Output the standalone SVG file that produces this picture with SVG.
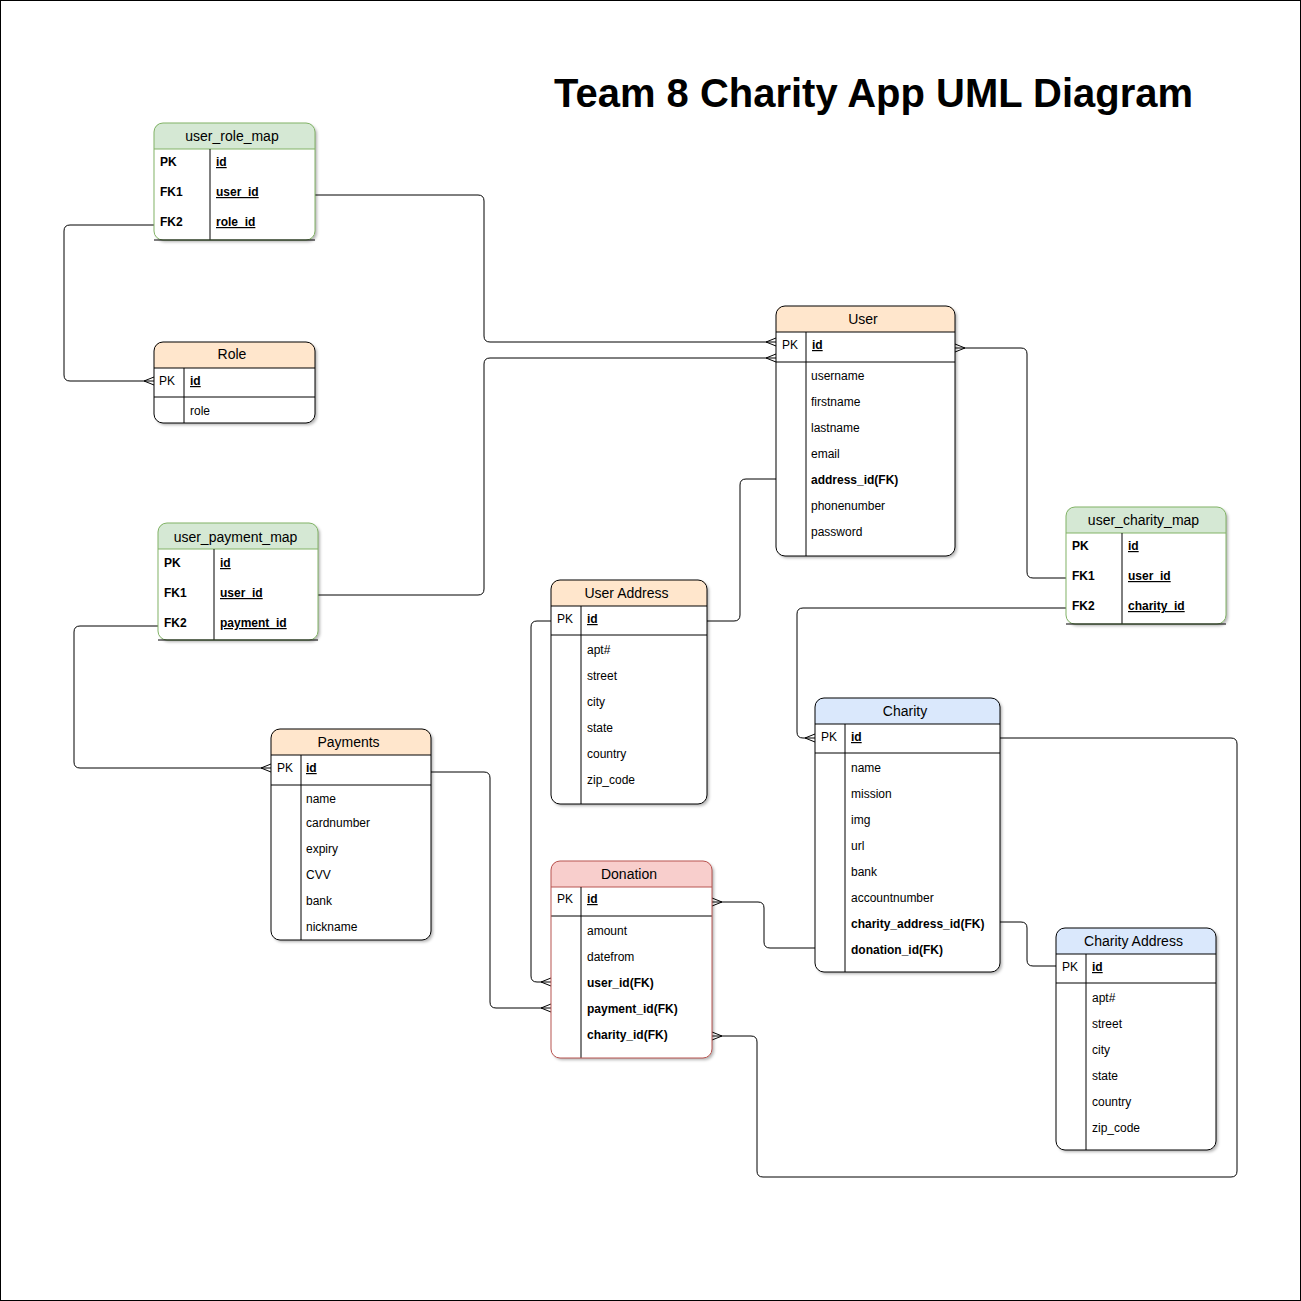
<svg xmlns="http://www.w3.org/2000/svg" width="1301" height="1301" viewBox="0 0 1301 1301">
<defs>
<style>
.t{font-family:"Liberation Sans",Arial,Helvetica,sans-serif;font-size:12px;fill:#000}
.b{font-weight:bold}
.u{text-decoration:underline}
.h{font-size:14px;text-anchor:middle}
.box{fill:#fff;stroke:none;filter:url(#sh)}
.ol{fill:none;stroke:#000;stroke-width:1}
.olg{fill:none;stroke:#82b366;stroke-width:1}
.olr{fill:none;stroke:#b85450;stroke-width:1}
.ln{stroke:#000;stroke-width:1;fill:none}
.lg{stroke:#82b366;stroke-width:1;fill:none}
.lr{stroke:#b85450;stroke-width:1;fill:none}
.hg{fill:#d5e8d4}
.ho{fill:#ffe6cc}
.hb{fill:#dae8fc}
.hr{fill:#f8cecc}
#connectors path{fill:none;stroke:#000;stroke-width:1}
.many{marker-end:url(#many)}
</style>
<filter id="sh" x="-10%" y="-10%" width="130%" height="130%">
<feDropShadow dx="2" dy="2" stdDeviation="1.5" flood-color="#000" flood-opacity="0.3"/>
</filter>
<marker id="many" markerWidth="12" markerHeight="10" refX="11" refY="5" orient="auto" markerUnits="userSpaceOnUse" overflow="visible">
<path d="M11,1 L1,5 L11,9" fill="none" stroke="#000" stroke-width="1"/>
</marker>
</defs>
<rect x="0.5" y="0.5" width="1300" height="1300" fill="#fff" stroke="#000" stroke-width="1"/>
<text class="t b" x="873.5" y="107" text-anchor="middle" textLength="639" lengthAdjust="spacingAndGlyphs" style="font-size:40px">Team 8 Charity App UML Diagram</text>

<g id="connectors">
<path class="many" d="M315,195 H478 Q484,195 484,201 V336 Q484,342 490,342 H776"/>
<path class="many" d="M318,595 H478 Q484,595 484,589 V364 Q484,358 490,358 H776"/>
<path class="many" d="M154,225 H70 Q64,225 64,231 V375 Q64,381 70,381 H154"/>
<path class="many" d="M158,626 H80 Q74,626 74,632 V762 Q74,768 80,768 H271"/>
<path class="many" d="M1066,578 H1033 Q1027,578 1027,572 V354 Q1027,348 1021,348 H955"/>
<path class="many" d="M1066,608 H803 Q797,608 797,614 V732 Q797,738 803,738 H815"/>
<path d="M776,479 H746 Q740,479 740,485 V615 Q740,621 734,621 H707"/>
<path class="many" d="M551,621 H537 Q531,621 531,627 V976 Q531,982 537,982 H551"/>
<path class="many" d="M431,772 H484 Q490,772 490,778 V1002 Q490,1008 496,1008 H551"/>
<path class="many" d="M815,948 H770 Q764,948 764,942 V908 Q764,902 758,902 H712"/>
<path d="M1000,922 H1021 Q1027,922 1027,928 V960 Q1027,966 1033,966 H1056"/>
<path class="many" d="M1000,738 H1231 Q1237,738 1237,744 V1171 Q1237,1177 1231,1177 H763 Q757,1177 757,1171 V1042 Q757,1036 751,1036 H712"/>
</g>

<g id="user_role_map">
<rect class="box" x="154" y="123" width="161" height="117" rx="9"/>
<path class="hg" d="M154,149 V132 Q154,123 163,123 H306 Q315,123 315,132 V149 Z"/>
<line class="lg" x1="154" y1="149" x2="315" y2="149"/>
<line class="ln" x1="210" y1="149" x2="210" y2="240"/>
<rect class="olg" x="154" y="123" width="161" height="117" rx="9"/>
<line class="ln" x1="154" y1="240" x2="315" y2="240"/>
<text class="t h" x="232" y="141">user_role_map</text>
<text class="t b" x="160" y="166">PK</text>
<text class="t b" x="160" y="196">FK1</text>
<text class="t b" x="160" y="226">FK2</text>
<text class="t b u" x="216" y="166">id</text>
<text class="t b u" x="216" y="196">user_id</text>
<text class="t b u" x="216" y="226">role_id</text>
</g>

<g id="role">
<rect class="box" x="154" y="342" width="161" height="81" rx="9"/>
<path class="ho" d="M154,368 V351 Q154,342 163,342 H306 Q315,342 315,351 V368 Z"/>
<line class="ln" x1="154" y1="368" x2="315" y2="368"/>
<line class="ln" x1="154" y1="397" x2="315" y2="397"/>
<line class="ln" x1="184" y1="368" x2="184" y2="423"/>
<rect class="ol" x="154" y="342" width="161" height="81" rx="9"/>
<text class="t h" x="232" y="359">Role</text>
<text class="t" x="159" y="385">PK</text>
<text class="t b u" x="190" y="385">id</text>
<text class="t" x="190" y="415">role</text>
</g>

<g id="user">
<rect class="box" x="776" y="306" width="179" height="250" rx="9"/>
<path class="ho" d="M776,332 V315 Q776,306 785,306 H946 Q955,306 955,315 V332 Z"/>
<line class="ln" x1="776" y1="332" x2="955" y2="332"/>
<line class="ln" x1="776" y1="362" x2="955" y2="362"/>
<line class="ln" x1="806" y1="332" x2="806" y2="556"/>
<rect class="ol" x="776" y="306" width="179" height="250" rx="9"/>
<text class="t h" x="863" y="324">User</text>
<text class="t" x="782" y="349">PK</text>
<text class="t b u" x="812" y="349">id</text>
<text class="t" x="811" y="380">username</text>
<text class="t" x="811" y="406">firstname</text>
<text class="t" x="811" y="432">lastname</text>
<text class="t" x="811" y="458">email</text>
<text class="t b" x="811" y="484">address_id(FK)</text>
<text class="t" x="811" y="510">phonenumber</text>
<text class="t" x="811" y="536">password</text>
</g>

<g id="user_payment_map">
<rect class="box" x="158" y="523" width="160" height="117" rx="9"/>
<path class="hg" d="M158,549 V532 Q158,523 167,523 H309 Q318,523 318,532 V549 Z"/>
<line class="lg" x1="158" y1="549" x2="318" y2="549"/>
<line class="ln" x1="214" y1="549" x2="214" y2="640"/>
<rect class="olg" x="158" y="523" width="160" height="117" rx="9"/>
<line class="ln" x1="158" y1="640" x2="318" y2="640"/>
<text class="t h" x="235.5" y="542">user_payment_map</text>
<text class="t b" x="164" y="567">PK</text>
<text class="t b" x="164" y="597">FK1</text>
<text class="t b" x="164" y="627">FK2</text>
<text class="t b u" x="220" y="567">id</text>
<text class="t b u" x="220" y="597">user_id</text>
<text class="t b u" x="220" y="627">payment_id</text>
</g>

<g id="user_address">
<rect class="box" x="551" y="580" width="156" height="224" rx="9"/>
<path class="ho" d="M551,606 V589 Q551,580 560,580 H698 Q707,580 707,589 V606 Z"/>
<line class="ln" x1="551" y1="606" x2="707" y2="606"/>
<line class="ln" x1="551" y1="635" x2="707" y2="635"/>
<line class="ln" x1="581" y1="606" x2="581" y2="804"/>
<rect class="ol" x="551" y="580" width="156" height="224" rx="9"/>
<text class="t h" x="626.5" y="598">User Address</text>
<text class="t" x="557" y="623">PK</text>
<text class="t b u" x="587" y="623">id</text>
<text class="t" x="587" y="654">apt#</text>
<text class="t" x="587" y="680">street</text>
<text class="t" x="587" y="706">city</text>
<text class="t" x="587" y="732">state</text>
<text class="t" x="587" y="758">country</text>
<text class="t" x="587" y="784">zip_code</text>
</g>

<g id="user_charity_map">
<rect class="box" x="1066" y="507" width="160" height="117" rx="9"/>
<path class="hg" d="M1066,533 V516 Q1066,507 1075,507 H1217 Q1226,507 1226,516 V533 Z"/>
<line class="lg" x1="1066" y1="533" x2="1226" y2="533"/>
<line class="ln" x1="1122" y1="533" x2="1122" y2="624"/>
<rect class="olg" x="1066" y="507" width="160" height="117" rx="9"/>
<line class="ln" x1="1066" y1="624" x2="1226" y2="624"/>
<text class="t h" x="1143.5" y="525">user_charity_map</text>
<text class="t b" x="1072" y="550">PK</text>
<text class="t b" x="1072" y="580">FK1</text>
<text class="t b" x="1072" y="610">FK2</text>
<text class="t b u" x="1128" y="550">id</text>
<text class="t b u" x="1128" y="580">user_id</text>
<text class="t b u" x="1128" y="610">charity_id</text>
</g>

<g id="payments">
<rect class="box" x="271" y="729" width="160" height="211" rx="9"/>
<path class="ho" d="M271,755 V738 Q271,729 280,729 H422 Q431,729 431,738 V755 Z"/>
<line class="ln" x1="271" y1="755" x2="431" y2="755"/>
<line class="ln" x1="271" y1="785" x2="431" y2="785"/>
<line class="ln" x1="301" y1="755" x2="301" y2="940"/>
<rect class="ol" x="271" y="729" width="160" height="211" rx="9"/>
<text class="t h" x="348.5" y="747">Payments</text>
<text class="t" x="277" y="772">PK</text>
<text class="t b u" x="306" y="772">id</text>
<text class="t" x="306" y="803">name</text>
<text class="t" x="306" y="827">cardnumber</text>
<text class="t" x="306" y="853">expiry</text>
<text class="t" x="306" y="879">CVV</text>
<text class="t" x="306" y="905">bank</text>
<text class="t" x="306" y="931">nickname</text>
</g>

<g id="donation">
<rect class="box" x="551" y="861" width="161" height="197" rx="9"/>
<path class="hr" d="M551,887 V870 Q551,861 560,861 H703 Q712,861 712,870 V887 Z"/>
<line class="lr" x1="551" y1="887" x2="712" y2="887"/>
<line class="ln" x1="551" y1="916" x2="712" y2="916"/>
<line class="ln" x1="581" y1="887" x2="581" y2="1058"/>
<rect class="olr" x="551" y="861" width="161" height="197" rx="9"/>
<text class="t h" x="629" y="879">Donation</text>
<text class="t" x="557" y="903">PK</text>
<text class="t b u" x="587" y="903">id</text>
<text class="t" x="587" y="935">amount</text>
<text class="t" x="587" y="961">datefrom</text>
<text class="t b" x="587" y="987">user_id(FK)</text>
<text class="t b" x="587" y="1013">payment_id(FK)</text>
<text class="t b" x="587" y="1039">charity_id(FK)</text>
</g>

<g id="charity">
<rect class="box" x="815" y="698" width="185" height="274" rx="9"/>
<path class="hb" d="M815,724 V707 Q815,698 824,698 H991 Q1000,698 1000,707 V724 Z"/>
<line class="ln" x1="815" y1="724" x2="1000" y2="724"/>
<line class="ln" x1="815" y1="753" x2="1000" y2="753"/>
<line class="ln" x1="845" y1="724" x2="845" y2="972"/>
<rect class="ol" x="815" y="698" width="185" height="274" rx="9"/>
<text class="t h" x="905" y="716">Charity</text>
<text class="t" x="821" y="741">PK</text>
<text class="t b u" x="851" y="741">id</text>
<text class="t" x="851" y="772">name</text>
<text class="t" x="851" y="798">mission</text>
<text class="t" x="851" y="824">img</text>
<text class="t" x="851" y="850">url</text>
<text class="t" x="851" y="876">bank</text>
<text class="t" x="851" y="902">accountnumber</text>
<text class="t b" x="851" y="928">charity_address_id(FK)</text>
<text class="t b" x="851" y="954">donation_id(FK)</text>
</g>

<g id="charity_address">
<rect class="box" x="1056" y="928" width="160" height="222" rx="9"/>
<path class="hb" d="M1056,954 V937 Q1056,928 1065,928 H1207 Q1216,928 1216,937 V954 Z"/>
<line class="ln" x1="1056" y1="954" x2="1216" y2="954"/>
<line class="ln" x1="1056" y1="983" x2="1216" y2="983"/>
<line class="ln" x1="1086" y1="954" x2="1086" y2="1150"/>
<rect class="ol" x="1056" y="928" width="160" height="222" rx="9"/>
<text class="t h" x="1133.5" y="946">Charity Address</text>
<text class="t" x="1062" y="971">PK</text>
<text class="t b u" x="1092" y="971">id</text>
<text class="t" x="1092" y="1002">apt#</text>
<text class="t" x="1092" y="1028">street</text>
<text class="t" x="1092" y="1054">city</text>
<text class="t" x="1092" y="1080">state</text>
<text class="t" x="1092" y="1106">country</text>
<text class="t" x="1092" y="1132">zip_code</text>
</g>
</svg>
